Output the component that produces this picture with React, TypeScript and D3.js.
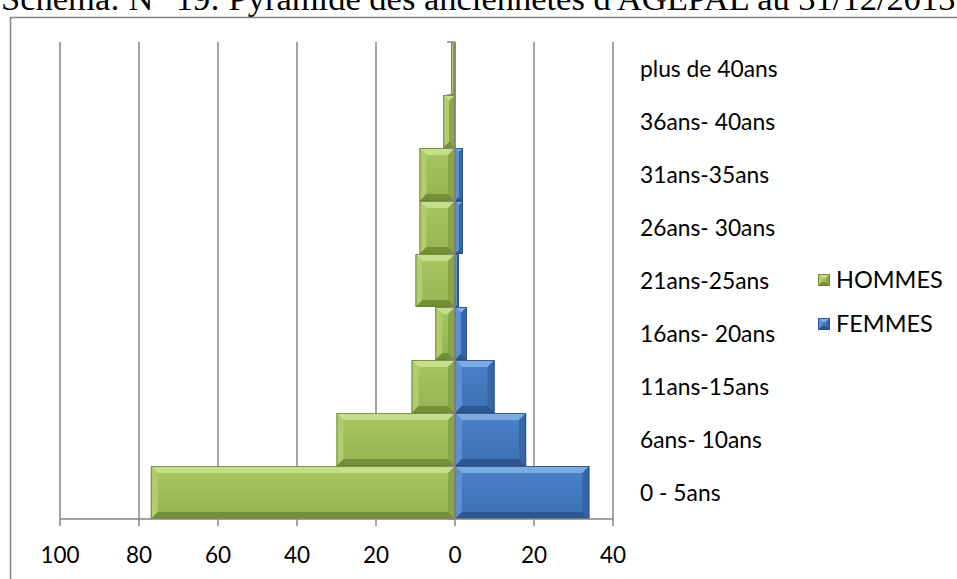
import React from "react";
import * as d3 from "d3";

// Seniority bands, bottom to top
const categories = [
  "0 - 5ans",
  "6ans- 10ans",
  "11ans-15ans",
  "16ans- 20ans",
  "21ans-25ans",
  "26ans- 30ans",
  "31ans-35ans",
  "36ans- 40ans",
  "plus de 40ans",
];
const hommes = [77, 30, 11, 5, 10, 9, 9, 3, 1];
const femmes = [34, 18, 10, 3, 1, 2, 2, 0, 0];
const tickValues = [-100, -80, -60, -40, -20, 0, 20, 40];
const seriesNames = ["HOMMES", "FEMMES"];
const title = "Schéma: N° 19: Pyramide des anciennetés d'AGEPAL au 31/12/2013";

const W = 957;
const H = 579;
const plot = { left: 60, right: 613, top: 42, bottom: 519 };
const labelFont = "Lato, 'Open Sans', sans-serif";

type Palette = {
  faceTop: string;
  faceBottom: string;
  top: string;
  left: string;
  right: string;
  bottom: string;
  outline: string;
  id: string;
};

const green: Palette = {
  faceTop: "#a8c662",
  faceBottom: "#95b451",
  top: "#c6dd8c",
  left: "#b0cc6c",
  right: "#88a547",
  bottom: "#758f37",
  outline: "#66802f",
  id: "gGreen",
};
const blue: Palette = {
  faceTop: "#4b82c8",
  faceBottom: "#3b70b4",
  top: "#7caae2",
  left: "#5d90d3",
  right: "#3567a8",
  bottom: "#2c5791",
  outline: "#284c7c",
  id: "gBlue",
};

function BevelRect({ x0, y0, w, h, p, bevel = 7 }: { x0: number; y0: number; w: number; h: number; p: Palette; bevel?: number }) {
  if (w <= 0.2 || h <= 0) return null;
  const b = Math.min(bevel, w / 2, h / 2);
  const x1 = x0 + w;
  const y1 = y0 + h;
  const pts = (a: number[][]) => a.map((q) => q.join(",")).join(" ");
  return (
    <g>
      <rect x={x0} y={y0} width={w} height={h} fill={`url(#${p.id})`} />
      <polygon points={pts([[x0, y0], [x1, y0], [x1 - b, y0 + b], [x0 + b, y0 + b]])} fill={p.top} />
      <polygon points={pts([[x0, y0], [x0 + b, y0 + b], [x0 + b, y1 - b], [x0, y1]])} fill={p.left} />
      <polygon points={pts([[x1, y0], [x1, y1], [x1 - b, y1 - b], [x1 - b, y0 + b]])} fill={p.right} />
      <polygon points={pts([[x0, y1], [x0 + b, y1 - b], [x1 - b, y1 - b], [x1, y1]])} fill={p.bottom} />
      <rect x={x0 + 0.5} y={y0 + 0.5} width={Math.max(w - 1, 0)} height={h - 1} fill="none" stroke={p.outline} strokeWidth={1} strokeOpacity={0.8} />
    </g>
  );
}

export default function App() {
  const x = d3.scaleLinear().domain([-100, 40]).range([plot.left, plot.right]);
  const y = d3
    .scaleBand<string>()
    .domain(categories)
    .range([plot.bottom, plot.top])
    .paddingInner(0)
    .paddingOuter(0);
  const bw = y.bandwidth();
  const x0 = x(0);

  return (
    <svg
      width={W}
      height={H}
      viewBox={`0 0 ${W} ${H}`}
      style={{ position: "absolute", left: 0, top: 0, background: "#fff" }}
    >
      <defs>
        {[green, blue].map((p) => (
          <linearGradient key={p.id} id={p.id} x1="0" y1="0" x2="0" y2="1">
            <stop offset="0" stopColor={p.faceTop} />
            <stop offset="1" stopColor={p.faceBottom} />
          </linearGradient>
        ))}
      </defs>

      {/* document caption above the chart frame */}
      <text x={1} y={10} fontFamily="'Liberation Serif', 'Times New Roman', serif" fontSize={34.5} fill="#000">
        {title}
      </text>

      {/* chart frame */}
      <rect x={10.5} y={17.5} width={W + 20} height={H + 20} fill="none" stroke="#868686" strokeWidth={1.5} />

      {/* vertical gridlines */}
      {tickValues.map((t) => (
        <line key={`g${t}`} x1={x(t)} x2={x(t)} y1={plot.top} y2={plot.bottom} stroke="#868686" strokeWidth={1.5} />
      ))}

      {/* bars */}
      {categories.map((c, i) => {
        const top = y(c)!;
        const hl = x0 - x(-hommes[i]);
        const fw = x(femmes[i]) - x0;
        return (
          <g key={c}>
            <BevelRect x0={x(-hommes[i])} y0={top} w={hl} h={bw} p={green} />
            <BevelRect x0={x0} y0={top} w={fw} h={bw} p={blue} />
          </g>
        );
      })}

      {/* category axis at zero with its tick marks */}
      <line x1={x0} x2={x0} y1={plot.top} y2={plot.bottom} stroke="#868686" strokeWidth={1.5} />
      {d3.range(categories.length + 1).map((k) => {
        const yy = plot.bottom - k * bw;
        return <line key={`ct${k}`} x1={x0 - 8} x2={x0} y1={yy} y2={yy} stroke="#868686" strokeWidth={1.5} />;
      })}

      {/* value axis */}
      <line x1={plot.left} x2={plot.right} y1={plot.bottom} y2={plot.bottom} stroke="#868686" strokeWidth={1.5} />
      {tickValues.map((t) => (
        <g key={`t${t}`}>
          <line x1={x(t)} x2={x(t)} y1={plot.bottom} y2={plot.bottom + 7} stroke="#868686" strokeWidth={1.5} />
          <text x={x(t)} y={plot.bottom + 44} textAnchor="middle" fontFamily={labelFont} fontSize={22.5} fill="#000">
            {Math.abs(t)}
          </text>
        </g>
      ))}

      {/* category labels */}
      {categories.map((c) => (
        <text key={`l${c}`} x={640} y={y(c)! + bw / 2 + 8} fontFamily={labelFont} fontSize={22.8} fill="#000">
          {c}
        </text>
      ))}

      {/* legend */}
      {seriesNames.map((s, i) => {
        const ly = 280 + i * 44;
        return (
          <g key={s}>
            <BevelRect x0={818} y0={ly - 6} w={12} h={12} p={i === 0 ? green : blue} bevel={4} />
            <text x={836} y={ly + 8} fontFamily={labelFont} fontSize={23.5} fill="#000">
              {s}
            </text>
          </g>
        );
      })}
    </svg>
  );
}
